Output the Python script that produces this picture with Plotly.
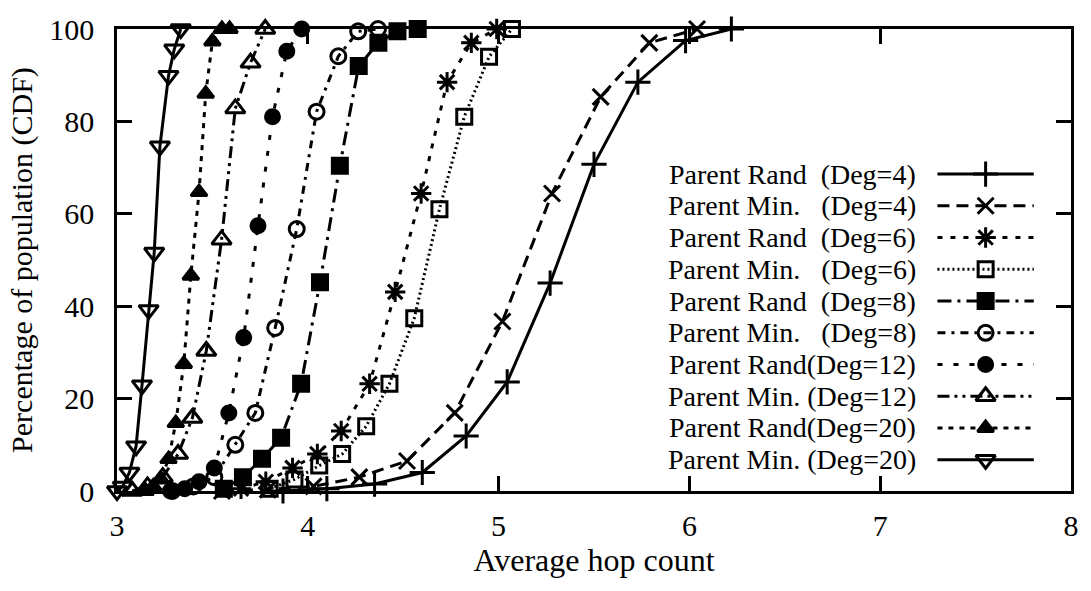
import plotly.graph_objects as go

# hop-count CDF per parent-selection policy and node degree
rand4_x = [3.87, 4.10, 4.35, 4.60, 4.83, 5.045, 5.27, 5.50, 5.73, 5.98, 6.22]
rand4_y = [0, 0.5, 1.5, 4, 11.9, 23.6, 45, 70.7, 88.5, 97.5, 100]
min4_x = [3.55, 3.79, 4.03, 4.27, 4.52, 4.77, 5.02, 5.28, 5.535, 5.79, 6.04]
min4_y = [0, 0.3, 1, 3, 6.5, 16.9, 36.7, 64.4, 85.3, 97, 100]
rand6_x = [3.65, 3.78, 3.92, 4.05, 4.175, 4.324, 4.458, 4.594, 4.73, 4.857, 4.99]
rand6_y = [0.5, 2, 5, 8, 13, 23.2, 43.1, 64.4, 88.5, 97, 100]
min6_x = [3.80, 3.93, 4.06, 4.18, 4.306, 4.428, 4.558, 4.69, 4.82, 4.95, 5.07]
min6_y = [0.5, 2.5, 5.5, 8, 14, 23.2, 37.4, 61, 81, 94, 100]
rand8_x = [3.56, 3.66, 3.76, 3.86, 3.965, 4.064, 4.168, 4.267, 4.37, 4.47, 4.576]
rand8_y = [0.5, 3, 7, 11.5, 23.2, 45.2, 70.4, 92, 97, 99.5, 100]
min8_x = [3.29, 3.40, 3.51, 3.62, 3.725, 3.829, 3.942, 4.046, 4.16, 4.264, 4.368]
min8_y = [0, 1, 3, 10, 16.9, 35.3, 56.7, 82.1, 94.1, 99.5, 100]
rand12_x = [3.28, 3.355, 3.43, 3.51, 3.586, 3.664, 3.739, 3.815, 3.89, 3.968]
rand12_y = [0, 0.5, 2, 5, 16.9, 33.2, 57.4, 81, 95.2, 100]
min12_x = [3.08, 3.16, 3.24, 3.32, 3.395, 3.468, 3.548, 3.62, 3.70, 3.777]
min12_y = [0, 1, 3, 8, 15.8, 30.3, 54.4, 82.8, 92.7, 100]
rand20_x = [3.15, 3.19, 3.23, 3.27, 3.308, 3.35, 3.387, 3.43, 3.465, 3.50, 3.55, 3.59]
rand20_y = [0, 1, 2.5, 6.9, 14.7, 27.5, 46.6, 64.7, 86, 97.3, 100, 100]
min20_x = [3.0, 3.03, 3.065, 3.10, 3.131, 3.166, 3.195, 3.225, 3.27, 3.30, 3.334]
min20_y = [0, 1, 4, 9.7, 22.9, 39.2, 51.6, 74.6, 89.9, 95.6, 100]

labels = [
    "Parent Rand\u00a0\u00a0(Deg=4)", "Parent Min.\u00a0\u00a0\u00a0(Deg=4)",
    "Parent Rand\u00a0\u00a0(Deg=6)", "Parent Min.\u00a0\u00a0\u00a0(Deg=6)",
    "Parent Rand\u00a0\u00a0(Deg=8)", "Parent Min.\u00a0\u00a0\u00a0(Deg=8)",
    "Parent Rand(Deg=12)", "Parent Min.\u00a0(Deg=12)",
    "Parent Rand(Deg=20)", "Parent Min.\u00a0(Deg=20)",
]
series = [(rand4_x, rand4_y), (min4_x, min4_y), (rand6_x, rand6_y), (min6_x, min6_y),
          (rand8_x, rand8_y), (min8_x, min8_y), (rand12_x, rand12_y), (min12_x, min12_y),
          (rand20_x, rand20_y), (min20_x, min20_y)]

# (dash, symbol, size)
styles = [
    ("solid", "cross-thin-open", 18),
    ("12px,7px", "x-thin-open", 16),
    ("5px,8px", "asterisk-open", 17),
    ("2px,3px", "square-open", 15),
    ("14px,6px,3px,6px", "square", 15),
    ("8px,6px,3px,6px", "circle-open", 15),
    ("5px,11px", "circle", 14),
    ("12px,5px,3px,5px,3px,5px", "triangle-up-open", 17),
    ("5px,6px", "triangle-up", 14),
    ("solid", "triangle-down-open", 17),
]

FONT = "Liberation Serif"
fig = go.Figure()

for (xs, ys), (dash, sym, size) in zip(series, styles):
    fig.add_trace(go.Scatter(
        x=xs, y=ys, mode="lines+markers", showlegend=False, cliponaxis=False,
        line=dict(color="black", width=3, dash=dash),
        marker=dict(symbol=sym, size=size, color="black",
                    line=dict(color="black", width=3))))

# gnuplot-style key: text on the left, sample on the right
key_text_x, key_x0, key_x1 = 0.8395, 0.860, 0.961
key_top, key_step = 0.686, 0.0687
for i, (label, (dash, sym, size)) in enumerate(zip(labels, styles)):
    yk = key_top - i * key_step
    fig.add_annotation(x=key_text_x, y=yk, xref="paper", yref="paper",
                       text=label, showarrow=False, xanchor="right", yanchor="middle",
                       font=dict(family=FONT, size=28, color="black"))
    fig.add_trace(go.Scatter(
        x=[key_x0, key_x1], y=[yk, yk], xaxis="x2", yaxis="y2", mode="lines",
        showlegend=False, hoverinfo="skip",
        line=dict(color="black", width=3, dash=dash)))
    fig.add_trace(go.Scatter(
        x=[(key_x0 + key_x1) / 2], y=[yk], xaxis="x2", yaxis="y2", mode="markers",
        showlegend=False, hoverinfo="skip", cliponaxis=False,
        marker=dict(symbol=sym, size=size, color="black",
                    line=dict(color="black", width=3))))

axis_common = dict(
    showline=True, linecolor="black", linewidth=2.5, mirror="allticks",
    ticks="inside", ticklen=15, tickwidth=2.5, tickcolor="black",
    showgrid=False, zeroline=False,
    tickfont=dict(family=FONT, size=30, color="black"),
)
fig.update_layout(
    width=1091, height=591,
    paper_bgcolor="white", plot_bgcolor="white",
    margin=dict(l=117, r=14, t=22, b=100),
    xaxis=dict(range=[3, 8], dtick=1, ticklabelstandoff=6,
               title=dict(text="Average hop count", standoff=4,
                          font=dict(family=FONT, size=32, color="black")),
               **axis_common),
    yaxis=dict(range=[0, 100], dtick=20, ticklabelstandoff=14,
               title=dict(text="Percentage of population (CDF)", standoff=8,
                          font=dict(family=FONT, size=30, color="black")),
               **axis_common),
    xaxis2=dict(range=[0, 1], overlaying="x", visible=False),
    yaxis2=dict(range=[0, 1], overlaying="y", visible=False),
)

# drop the default page margin so the figure sits flush in the window
fig.write_html("out.html", config={"displayModeBar": False},
               post_script="document.body.style.margin = '0';")
